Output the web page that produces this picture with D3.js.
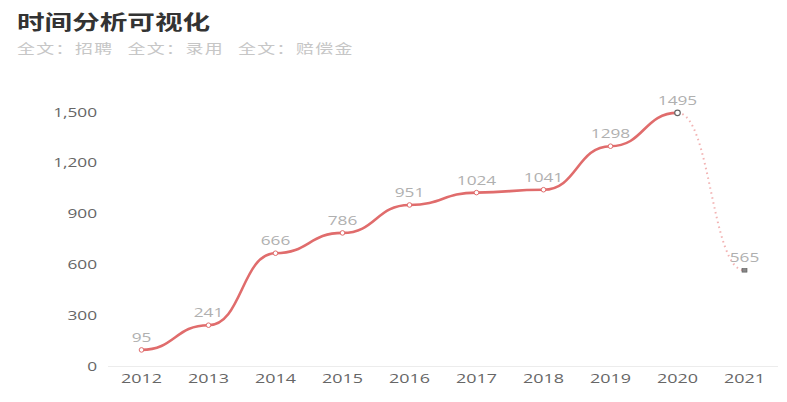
<!DOCTYPE html>
<html>
<head>
<meta charset="utf-8">
<script src="https://cdn.jsdelivr.net/npm/d3@7"></script>
<style>
  body { margin: 0; background: #fff; }
  svg { display: block; }
</style>
</head>
<body>
<div id="chart"></div>
<script>
const years = ['2012', '2013', '2014', '2015', '2016', '2017', '2018', '2019', '2020', '2021'];
const counts = [95, 241, 666, 786, 951, 1024, 1041, 1298, 1495, 565];
const yTicks = [0, 300, 600, 900, 1200, 1500];
const titleText = '时间分析可视化';
const legendItems = ['全文：招聘', '全文：录用', '全文：赔偿金'];

const W = 787, H = 402;
// the source picture is stretched sideways, so text gets a wider x scale
const SX = 1.38;

const svg = d3.select('#chart').append('svg')
  .attr('width', W)
  .attr('height', H);

const stretched = (x, y) => `translate(${x},${y}) scale(${SX},1)`;

// title + legend line
svg.append('text')
  .attr('transform', stretched(17, 30))
  .style('font-family', '"Noto Sans CJK SC", sans-serif')
  .style('font-weight', 'bold')
  .style('font-size', '20px')
  .style('fill', '#333')
  .text(titleText);

svg.append('g').selectAll('text')
  .data(legendItems).enter()
  .append('text')
  .attr('transform', (d, i) => stretched(17 + i * 110.5, 53))
  .style('font-family', '"Noto Sans CJK SC", sans-serif')
  .style('font-size', '13px')
  .style('letter-spacing', '1px')
  .style('fill', '#c6c6c6')
  .text(d => d);

const x = d3.scaleBand().domain(years).range([108, 778]);
const y = d3.scaleLinear().domain([0, 1500]).range([366, 112]);
const cx = d => x(d) + x.bandwidth() / 2;

// y axis labels
svg.append('g').selectAll('text')
  .data(yTicks).enter()
  .append('text')
  .attr('transform', d => stretched(97, y(d) + 4.5))
  .attr('text-anchor', 'end')
  .style('font-family', '"Open Sans", sans-serif')
  .style('font-size', '12.5px')
  .style('fill', '#666')
  .text(d3.format(','));

// baseline
svg.append('line')
  .attr('x1', 108).attr('x2', 778)
  .attr('y1', y(0) + 0.5).attr('y2', y(0) + 0.5)
  .style('stroke', '#ececec');

// x labels
svg.append('g').selectAll('text')
  .data(years).enter()
  .append('text')
  .attr('transform', d => stretched(cx(d), 383))
  .attr('text-anchor', 'middle')
  .style('font-family', '"Open Sans", sans-serif')
  .style('font-size', '13px')
  .style('fill', '#666')
  .text(d => d);

const pts = years.map((d, i) => ({ year: d, v: counts[i] }));
const line = d3.line()
  .x(d => cx(d.year))
  .y(d => y(d.v))
  .curve(d3.curveBumpX);

// solid part up to 2020
svg.append('path')
  .attr('d', line(pts.slice(0, 9)))
  .style('fill', 'none')
  .style('stroke', '#e06c6c')
  .style('stroke-width', 2.6);

// dotted projection 2020 -> 2021
svg.append('path')
  .attr('d', line(pts.slice(8)))
  .style('fill', 'none')
  .style('stroke', '#f2b3b3')
  .style('stroke-width', 2)
  .style('stroke-dasharray', '1.5,3.5');

// markers
svg.append('g').selectAll('circle')
  .data(pts.slice(0, 8)).enter()
  .append('circle')
  .attr('cx', d => cx(d.year))
  .attr('cy', d => y(d.v))
  .attr('r', 2.3)
  .style('fill', '#fff')
  .style('stroke', '#e06c6c')
  .style('stroke-width', 1);

svg.append('circle')
  .attr('cx', cx(years[8]))
  .attr('cy', y(counts[8]))
  .attr('r', 2.8)
  .style('fill', '#fff')
  .style('stroke', '#666')
  .style('stroke-width', 1.2);

svg.append('rect')
  .attr('x', cx(years[9]) - 2.5)
  .attr('y', y(counts[9]) - 1.8)
  .attr('width', 5).attr('height', 3.6)
  .style('fill', '#888')
  .style('stroke', '#555')
  .style('stroke-width', 0.6);

// value labels
svg.append('g').selectAll('text')
  .data(pts).enter()
  .append('text')
  .attr('transform', d => stretched(cx(d.year), y(d.v) - 8))
  .attr('text-anchor', 'middle')
  .style('font-family', '"Open Sans", sans-serif')
  .style('font-size', '12.5px')
  .style('fill', '#b0b0b0')
  .text(d => d.v);
</script>
</body>
</html>
